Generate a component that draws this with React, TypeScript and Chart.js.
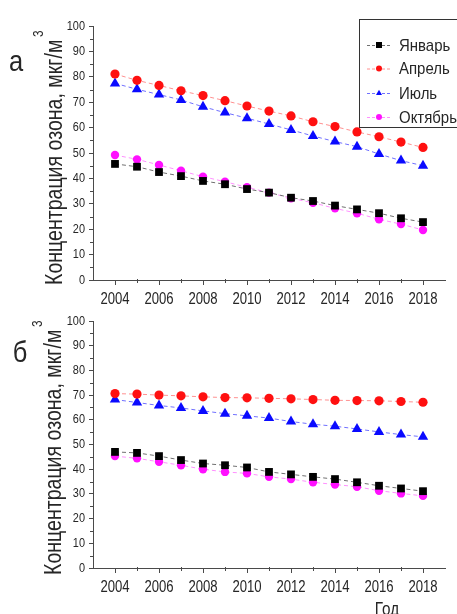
import { useEffect, useRef } from "react";
import { Chart, registerables } from "chart.js";

Chart.register(...registerables);

// Years of observation
const years = [2004, 2005, 2006, 2007, 2008, 2009, 2010, 2011, 2012, 2013, 2014, 2015, 2016, 2017, 2018];
const yearTicks = [2004, 2006, 2008, 2010, 2012, 2014, 2016, 2018];

// Panel "а" — ozone concentration, µg/m³
const janA = [45.7, 44.6, 42.5, 40.9, 39.0, 37.7, 35.8, 34.4, 32.4, 31.1, 29.3, 27.8, 26.3, 24.3, 22.8];
const aprA = [81.1, 78.6, 76.6, 74.5, 72.6, 70.6, 68.5, 66.5, 64.6, 62.3, 60.4, 58.3, 56.4, 54.3, 52.2];
const julA = [77.4, 75.1, 73.0, 70.9, 68.2, 65.9, 63.7, 61.4, 59.1, 56.7, 54.5, 52.5, 49.6, 47.0, 45.0];
const octA = [49.2, 47.5, 45.3, 43.0, 40.7, 38.7, 36.5, 34.4, 32.2, 30.4, 28.2, 26.3, 23.9, 22.0, 19.7];

// Panel "б"
const janB = [47.0, 46.6, 45.3, 43.7, 42.3, 41.6, 40.7, 38.9, 37.9, 36.9, 36.0, 34.7, 33.3, 32.2, 31.1];
const aprB = [70.6, 70.4, 70.0, 69.7, 69.3, 69.0, 68.9, 68.7, 68.5, 68.2, 67.9, 67.8, 67.7, 67.4, 67.1];
const julB = [68.2, 67.0, 65.8, 64.8, 63.6, 62.5, 61.6, 60.7, 59.3, 58.2, 57.4, 56.3, 55.1, 54.0, 53.1];
const octB = [45.3, 44.4, 43.0, 41.6, 40.0, 38.9, 38.3, 36.9, 36.0, 34.7, 33.8, 32.9, 31.3, 30.2, 29.2];

const seriesNames = ["Январь", "Апрель", "Июль", "Октябрь"];
const markerColors = ["#000000", "#ff1010", "#0a0aff", "#ff10ff"];
const lineColors = ["#707070", "#ff9090", "#7070ff", "#ff90ff"];
const pointStyles = ["rect", "circle", "triangle", "circle"];
const pointRadii = [5.5, 4.6, 6, 4.2];

const yTitle = "Концентрация озона, мкг/м";
const xTitle = "Год";

const FONT = '"Liberation Sans", Arial, sans-serif';
const TEXT = "#262626";
const AXIS = "#4a4a4a";
const W = 457;
const H = 307;

type Panel = {
  letter: string;
  letterX: number;
  letterY: number;
  titleX: number;
  titleBottom: number;
  padTop: number;
  xAxisHeight: number;
  legend: boolean;
  showXTitle: boolean;
  values: number[][];
};

// text in a condensed face: draw regular glyphs squeezed horizontally
function narrowText(
  ctx: CanvasRenderingContext2D,
  text: string,
  x: number,
  y: number,
  size: number,
  squeeze: number,
  align: CanvasTextAlign,
  baseline: CanvasTextBaseline
) {
  ctx.save();
  ctx.translate(x, y);
  ctx.scale(squeeze, 1);
  ctx.font = `${size}px ${FONT}`;
  ctx.textAlign = align;
  ctx.textBaseline = baseline;
  ctx.fillText(text, 0, 0);
  ctx.restore();
}

function drawMarker(ctx: CanvasRenderingContext2D, style: string, x: number, y: number, r: number) {
  ctx.beginPath();
  if (style === "rect") {
    ctx.rect(x - r, y - r, 2 * r, 2 * r);
  } else if (style === "triangle") {
    ctx.moveTo(x, y - r * 1.1);
    ctx.lineTo(x + r, y + r * 0.7);
    ctx.lineTo(x - r, y + r * 0.7);
    ctx.closePath();
  } else {
    ctx.arc(x, y, r, 0, Math.PI * 2);
  }
  ctx.fill();
}

function decorPlugin(p: Panel) {
  return {
    id: "decor",
    afterDraw(chart: any) {
      const ctx: CanvasRenderingContext2D = chart.ctx;
      const xs = chart.scales.x;
      const ys = chart.scales.y;
      const area = chart.chartArea;
      ctx.save();

      // minor ticks
      ctx.strokeStyle = AXIS;
      ctx.lineWidth = 1;
      ctx.beginPath();
      for (let v = 5; v < 100; v += 10) {
        const py = Math.round(ys.getPixelForValue(v)) + 0.5;
        ctx.moveTo(area.left - 3, py);
        ctx.lineTo(area.left, py);
      }
      for (let yr = 2005; yr <= 2017; yr += 2) {
        const px = Math.round(xs.getPixelForValue(yr)) + 0.5;
        ctx.moveTo(px, area.bottom - 1);
        ctx.lineTo(px, area.bottom + 3);
      }
      ctx.stroke();

      ctx.fillStyle = TEXT;

      // tick labels
      ys.ticks.forEach((t: any) => {
        narrowText(ctx, String(t.value), area.left - 8, ys.getPixelForValue(t.value), 13, 0.84, "right", "middle");
      });
      xs.ticks.forEach((t: any) => {
        narrowText(ctx, String(t.value), xs.getPixelForValue(t.value), area.bottom + 12, 16, 0.82, "center", "top");
      });

      // panel letter
      narrowText(ctx, p.letter, p.letterX, p.letterY, 30, 0.85, "center", "alphabetic");

      // rotated axis title with superscript
      ctx.save();
      ctx.translate(p.titleX, p.titleBottom);
      ctx.rotate(-Math.PI / 2);
      ctx.scale(0.85, 1);
      ctx.font = `23px ${FONT}`;
      ctx.textAlign = "left";
      ctx.textBaseline = "alphabetic";
      ctx.fillText(yTitle, 0, 0);
      const w = ctx.measureText(yTitle).width;
      ctx.font = `14px ${FONT}`;
      ctx.fillText("3", w + 3, -19);
      ctx.restore();

      if (p.showXTitle) {
        narrowText(ctx, xTitle, 387, H + 1, 18, 0.85, "center", "alphabetic");
      }

      if (p.legend) {
        ctx.strokeStyle = "#333";
        ctx.lineWidth = 1;
        ctx.strokeRect(359.5, 19.5, 120, 108);
        const rows = [45, 68.5, 93, 117];
        seriesNames.forEach((name, i) => {
          const y = rows[i];
          ctx.strokeStyle = lineColors[i];
          ctx.setLineDash([3, 2]);
          ctx.beginPath();
          ctx.moveTo(367, y + 0.5);
          ctx.lineTo(391, y + 0.5);
          ctx.stroke();
          ctx.setLineDash([]);
          ctx.fillStyle = markerColors[i];
          drawMarker(ctx, pointStyles[i], 379, y, 3);
          ctx.fillStyle = TEXT;
          narrowText(ctx, name, 399, y + 1, 17, 0.88, "left", "middle");
        });
      }
      ctx.restore();
    },
  };
}

function buildChart(canvas: HTMLCanvasElement, p: Panel) {
  const datasets = seriesNames.map((name, i) => ({
    label: name,
    data: years.map((x, k) => ({ x, y: p.values[i][k] })),
    showLine: true,
    borderColor: lineColors[i],
    borderWidth: 1,
    borderDash: [4, 3],
    backgroundColor: markerColors[i],
    pointBackgroundColor: markerColors[i],
    pointBorderColor: markerColors[i],
    pointBorderWidth: 0,
    pointStyle: pointStyles[i],
    pointRadius: pointRadii[i],
    tension: 0,
  }));

  return new Chart(canvas, {
    type: "line",
    data: { datasets },
    options: {
      animation: false,
      responsive: false,
      devicePixelRatio: 1,
      events: [],
      layout: { padding: { top: p.padTop, right: 12, bottom: 0, left: 0 } },
      plugins: { legend: { display: false }, tooltip: { enabled: false } },
      scales: {
        x: {
          type: "linear",
          min: 2003,
          max: 2019,
          afterBuildTicks: (s: any) => {
            s.ticks = yearTicks.map((v) => ({ value: v }));
          },
          afterFit: (s: any) => {
            s.height = p.xAxisHeight;
          },
          grid: { drawOnChartArea: false, drawTicks: true, tickLength: 5, color: AXIS, lineWidth: 1 },
          border: { display: true, color: AXIS, width: 1 },
          ticks: { display: false, autoSkip: false, maxRotation: 0 },
        },
        y: {
          type: "linear",
          min: 0,
          max: 100,
          afterFit: (s: any) => {
            s.width = 93;
          },
          grid: { drawOnChartArea: false, drawTicks: true, tickLength: 4, color: AXIS, lineWidth: 1 },
          border: { display: true, color: AXIS, width: 1 },
          ticks: { display: false, stepSize: 10 },
        },
      },
    },
    plugins: [decorPlugin(p)],
  } as any);
}

const panelA: Panel = {
  letter: "а",
  letterX: 16,
  letterY: 71,
  titleX: 62,
  titleBottom: 285,
  padTop: 26,
  xAxisHeight: 27,
  legend: true,
  showXTitle: false,
  values: [janA, aprA, julA, octA],
};

const panelB: Panel = {
  letter: "б",
  letterX: 20,
  letterY: 362 - 307,
  titleX: 61,
  titleBottom: 575 - 307,
  padTop: 14,
  xAxisHeight: 46,
  legend: false,
  showXTitle: true,
  values: [janB, aprB, julB, octB],
};

function PanelChart({ panel, top }: { panel: Panel; top: number }) {
  const ref = useRef<HTMLCanvasElement>(null);
  useEffect(() => {
    if (!ref.current) return;
    const chart = buildChart(ref.current, panel);
    return () => chart.destroy();
  }, [panel]);
  return (
    <canvas
      ref={ref}
      width={W}
      height={H}
      style={{ position: "absolute", left: 0, top, width: W, height: H, display: "block" }}
    />
  );
}

export default function App() {
  return (
    <div style={{ position: "fixed", left: 0, top: 0, width: W, height: 614, background: "#ffffff", overflow: "hidden" }}>
      <PanelChart panel={panelA} top={0} />
      <PanelChart panel={panelB} top={307} />
    </div>
  );
}
